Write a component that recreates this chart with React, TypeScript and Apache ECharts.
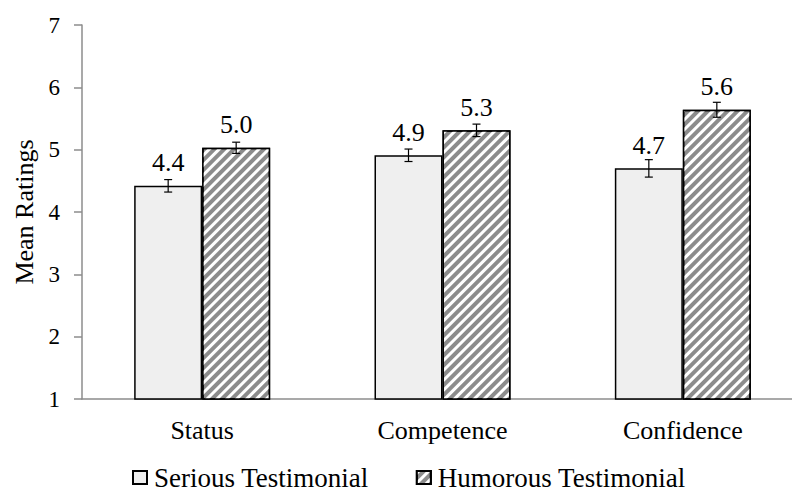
import React, { useEffect, useRef } from "react";
import * as echarts from "echarts";

const categories = ["Status", "Competence", "Confidence"];
const seriousMeans = [4.42, 4.91, 4.7];
const humorousMeans = [5.03, 5.31, 5.64];
const seriousErr = [0.1, 0.1, 0.14];
const humorousErr = [0.09, 0.1, 0.12];
const yTicks = [1, 2, 3, 4, 5, 6, 7];
const seriesNames = ["Serious Testimonial", "Humorous Testimonial"];

const FONT = "'Liberation Serif', 'Times New Roman', serif";
const BAR_W = 68;

export default function App() {
  const ref = useRef<HTMLDivElement>(null);
  useEffect(() => {
    if (!ref.current) return;
    const chart = echarts.init(ref.current, null, { renderer: "svg" });
    const errData: number[][] = [];
    seriousMeans.forEach((m, i) => errData.push([i, m - seriousErr[i], m + seriousErr[i], 0]));
    humorousMeans.forEach((m, i) => errData.push([i, m - humorousErr[i], m + humorousErr[i], 1]));
    const renderErr = (params: any, api: any) => {
      const i = api.value(0);
      const lo = api.value(1);
      const hi = api.value(2);
      const s = api.value(3);
      const off = s === 0 ? -BAR_W / 2 : BAR_W / 2;
      const pLo = api.coord([i, lo]);
      const pHi = api.coord([i, hi]);
      const x = pLo[0] + off;
      const cap = 4;
      const st = { stroke: "#000", lineWidth: 1.2 };
      return {
        type: "group",
        children: [
          { type: "line", shape: { x1: x, y1: pLo[1], x2: x, y2: pHi[1] }, style: st },
          { type: "line", shape: { x1: x - cap, y1: pLo[1], x2: x + cap, y2: pLo[1] }, style: st },
          { type: "line", shape: { x1: x - cap, y1: pHi[1], x2: x + cap, y2: pHi[1] }, style: st },
        ],
      };
    };
    const labelCfg = {
      show: true,
      position: "top",
      distance: 10,
      color: "#000",
      fontFamily: FONT,
      fontSize: 26,
      formatter: (p: any) => Number(p.value).toFixed(1),
    };
    chart.setOption({
      animation: false,
      backgroundColor: "#fff",
      textStyle: { fontFamily: FONT },
      grid: { left: 82, width: 721, top: 25, bottom: 93, containLabel: false, outerBoundsMode: "none" },
      legend: {
        bottom: -4,
        left: 127,
        itemWidth: 14,
        itemHeight: 13,
        itemGap: 47,
        icon: "rect",
        data: seriesNames,
        textStyle: { fontFamily: FONT, fontSize: 27, color: "#000", padding: [0, 0, 0, 2] },
      },
      xAxis: {
        type: "category",
        data: categories,
        axisLine: { lineStyle: { color: "#8c8c8c", width: 1.5 } },
        axisTick: { show: false },
        axisLabel: { color: "#000", fontFamily: FONT, fontSize: 26, margin: 18 },
      },
      yAxis: {
        type: "value",
        min: yTicks[0],
        max: yTicks[yTicks.length - 1],
        interval: 1,
        name: "Mean Ratings",
        nameLocation: "middle",
        nameGap: 45,
        nameTextStyle: { color: "#000", fontFamily: FONT, fontSize: 26 },
        axisLine: { show: true, lineStyle: { color: "#8c8c8c", width: 1.5 } },
        axisTick: { show: true, length: 8, lineStyle: { color: "#8c8c8c", width: 1.5 } },
        splitLine: { show: false },
        axisLabel: { color: "#000", fontFamily: FONT, fontSize: 23, margin: 22 },
      },
      series: [
        {
          name: seriesNames[0],
          type: "bar",
          data: seriousMeans,
          barWidth: BAR_W,
          barGap: "0%",
          itemStyle: { color: "#efefef", borderColor: "#000", borderWidth: 1.5 },
          label: labelCfg,
        },
        {
          name: seriesNames[1],
          type: "bar",
          data: humorousMeans,
          barWidth: BAR_W,
          barGap: "0%",
          itemStyle: {
            color: "#8c8c8c",
            borderColor: "#000",
            borderWidth: 1.5,
            decal: {
              symbol: "rect",
              color: "#ffffff",
              dashArrayX: [1, 0],
              dashArrayY: [3, 3.4],
              rotation: -Math.PI / 4,
            },
          },
          label: labelCfg,
        },
        {
          type: "custom",
          data: errData,
          renderItem: renderErr,
          z: 10,
          silent: true,
        },
      ],
    });
    return () => chart.dispose();
  }, []);
  return (
    <div
      ref={ref}
      style={{ position: "absolute", left: 0, top: 0, width: 792, height: 492, background: "#fff" }}
    />
  );
}
